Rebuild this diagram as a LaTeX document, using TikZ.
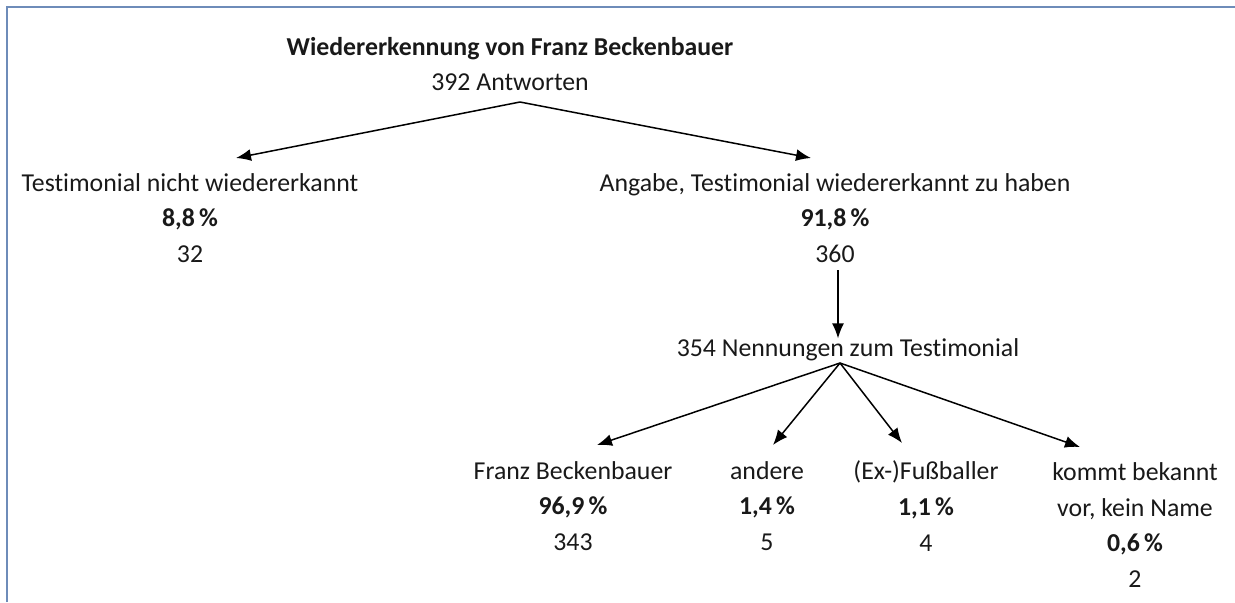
\documentclass[tikz,border=0pt]{standalone}
\usepackage{fontspec}
\setmainfont[Ligatures=NoCommon]{Carlito}
\usetikzlibrary{arrows.meta,calc}
\definecolor{frameblue}{RGB}{110,140,185}
\definecolor{inkgray}{RGB}{25,25,25}
\begin{document}
\begin{tikzpicture}[x=0.5pt,y=-0.5pt,
		txt/.style={align=center,inner sep=0pt,text=inkgray,font=\fontsize{12.9}{17.8}\selectfont},
		arr/.style={-{Latex[length=7.5pt,width=6pt]},line width=0.75pt}]
			\useasboundingbox (0,0) rectangle (1235,602);
			\draw[frameblue,line width=1.2pt] (7,602)--(7,7)--(1235,7);
			% first level
			\node[txt] at (510,64) (title) {\textbf{Wiedererkennung von Franz Beckenbauer}\\392 Antworten};
			\node[txt] at (190,218) (nicht) {Testimonial nicht wiedererkannt\\\textbf{8,8\,\%}\\32};
			\node[txt] at (835,218) (erkannt) {Angabe, Testimonial wiedererkannt zu haben\\\textbf{91,8\,\%}\\360};
			\coordinate (forktop) at (520,102);
			\coordinate (tipnicht) at (236,158);
			\coordinate (tiperkannt) at (811,158);
			\draw[arr] (forktop)--(tipnicht);
			\draw[arr] (forktop)--(tiperkannt);
			% second level
			\node[txt] at (848,350) (nenn) {354 Nennungen zum Testimonial};
			\coordinate (downtop) at (838,270);
			\draw[arr] (downtop)--(downtop |- nenn.north);
			\node[txt] at (573,506) (franz) {Franz Beckenbauer\\\textbf{96,9\,\%}\\343};
			\node[txt] at (767,506) (andere) {andere\\\textbf{1,4\,\%}\\5};
			\node[txt] at (926,506) (fuss) {(Ex-)Fußballer\\\textbf{1,1\,\%}\\4};
			\node[txt] at (1135,525) (kommt) {kommt bekannt\\vor, kein Name\\\textbf{0,6\,\%}\\2};
			\coordinate (fork) at (840,363);
			\coordinate (tipfranz) at (597,445);
			\coordinate (tipandere) at (773,445);
			\coordinate (tipfuss) at (902,443);
			\coordinate (tipkommt) at (1080,447);
			\draw[arr] (fork)--(tipfranz);
			\draw[arr] (fork)--(tipandere);
			\draw[arr] (fork)--(tipfuss);
			\draw[arr] (fork)--(tipkommt);
		\end{tikzpicture}
\end{document}
